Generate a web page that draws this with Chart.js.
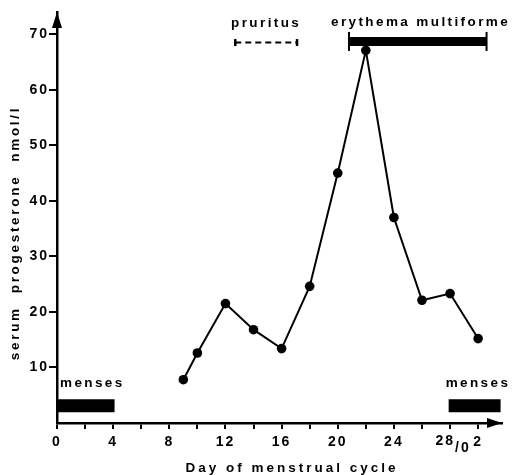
<!DOCTYPE html>
<html>
<head>
<meta charset="utf-8">
<script src="https://cdn.jsdelivr.net/npm/chart.js@4.4.1/dist/chart.umd.min.js"></script>
<style>
html, body { margin: 0; background: #fff; }
canvas { display: block; }
</style>
</head>
<body>
<canvas id="graficoProgesterona" width="514" height="475"></canvas>
<script>
// serum progesterone (nmol/l) by day of cycle
const dias = [9, 10, 12, 14, 16, 18, 20, 22, 24, 26, 28, 30];
const progesterona = [7.8, 12.6, 21.5, 16.8, 13.4, 24.6, 45.0, 67.1, 37.0, 22.1, 23.3, 15.2];

// x tick labels (day 28 = day 0 of next cycle, drawn apart)
const diasTick = [0, 4, 8, 12, 16, 20, 24, 30];
const etiquetasTick = ['0', '4', '8', '12', '16', '20', '24', '2'];

// symptom periods [start, end] and level
const pruritusDias = [12.7, 17.1];
const pruritusNivel = 68.5;
const eritemaDias = [20.8, 30.6];
const eritemaNivel = 68.7;
const mensesDias1 = [0, 4.1];
const mensesDias2 = [27.9, 31.6];
const mensesNivel = 3.1;

const familia = "'Liberation Sans', Arial, sans-serif";
const fuente = { family: familia, size: 14, weight: 'bold' };

function espaciado(chart) {
    chart.ctx.letterSpacing = '2px';
}

const extras = {
    id: 'extras',
    afterInit: espaciado,
    beforeUpdate: espaciado,
    beforeDraw: espaciado,
    afterDatasetsDraw(chart) {
        const { ctx, scales: { x, y } } = chart;
        ctx.save();
        ctx.fillStyle = '#000';
        ctx.font = 'bold 13.5px ' + familia;
        ctx.letterSpacing = '2.4px';
        ctx.textBaseline = 'alphabetic';

        ctx.textAlign = 'center';
        ctx.fillText('pruritus', x.getPixelForValue((pruritusDias[0] + pruritusDias[1]) / 2), y.getPixelForValue(pruritusNivel) - 16);
        ctx.textAlign = 'left';
        ctx.fillText('erythema multiforme', x.getPixelForValue(eritemaDias[0]) - 18, y.getPixelForValue(eritemaNivel) - 15);
        ctx.fillText('menses', x.getPixelForValue(mensesDias1[0]) + 3, y.getPixelForValue(mensesNivel) - 19);
        ctx.fillText('menses', x.getPixelForValue(mensesDias2[0]) - 3, y.getPixelForValue(mensesNivel) - 19);
        ctx.restore();
    },
    afterDraw(chart) {
        const { ctx, chartArea: a, scales: { x } } = chart;
        ctx.save();
        ctx.fillStyle = '#000';
        // arrow heads
        ctx.beginPath();
        ctx.moveTo(a.left, a.top);
        ctx.lineTo(a.left - 5, a.top + 16);
        ctx.lineTo(a.left + 5, a.top + 16);
        ctx.closePath();
        ctx.fill();
        ctx.beginPath();
        ctx.moveTo(a.right, a.bottom);
        ctx.lineTo(a.right - 15, a.bottom - 5);
        ctx.lineTo(a.right - 15, a.bottom + 5);
        ctx.closePath();
        ctx.fill();

        // "28/0" tick label with lowered "/0"
        ctx.font = 'bold 14px ' + familia;
        ctx.letterSpacing = '2px';
        ctx.textBaseline = 'alphabetic';
        ctx.textAlign = 'right';
        const x28 = x.getPixelForValue(28);
        ctx.fillText('28', x28 + 5, a.bottom + 22);
        ctx.textAlign = 'left';
        ctx.fillText('/0', x28 + 5, a.bottom + 29);

        // axis titles
        ctx.font = 'bold 13.5px ' + familia;
        ctx.textAlign = 'center';
        ctx.textBaseline = 'middle';
        ctx.letterSpacing = '3px';
        ctx.fillText('Day of menstrual cycle', 292, 468);
        ctx.translate(15, 233);
        ctx.rotate(-Math.PI / 2);
        ctx.letterSpacing = '2.7px';
        ctx.fillText('serum  progesterone  nmol/l', 0, 0);
        ctx.restore();
    }
};

function tramo(dias2, nivel) {
    return [{ x: dias2[0], y: nivel }, { x: dias2[1], y: nivel }];
}

const ctx = document.getElementById('graficoProgesterona').getContext('2d');

const grafico = new Chart(ctx, {
    type: 'line',
    data: {
        datasets: [
            {
                label: 'progesterone',
                data: dias.map((d, i) => ({ x: d, y: progesterona[i] })),
                borderColor: '#000',
                backgroundColor: '#000',
                borderWidth: 2,
                pointRadius: 4.8,
                pointBorderWidth: 0,
                pointBackgroundColor: '#000',
                tension: 0
            },
            {
                label: 'pruritus',
                data: tramo(pruritusDias, pruritusNivel),
                borderColor: '#000',
                borderWidth: 2,
                borderDash: [6, 4],
                pointStyle: 'line',
                rotation: 90,
                pointRadius: 3.5,
                pointBorderWidth: 2.5,
                pointBorderColor: '#000'
            },
            {
                label: 'erythema multiforme',
                data: tramo(eritemaDias, eritemaNivel),
                borderColor: '#000',
                borderWidth: 9,
                borderCapStyle: 'butt',
                pointStyle: 'line',
                rotation: 90,
                pointRadius: 9.5,
                pointBorderWidth: 2,
                pointBorderColor: '#000'
            },
            {
                label: 'menses',
                data: tramo(mensesDias1, mensesNivel),
                borderColor: '#000',
                borderWidth: 13,
                borderCapStyle: 'butt',
                pointRadius: 0
            },
            {
                label: 'menses',
                data: tramo(mensesDias2, mensesNivel),
                borderColor: '#000',
                borderWidth: 13,
                borderCapStyle: 'butt',
                pointRadius: 0
            }
        ]
    },
    options: {
        responsive: false,
        animation: false,
        layout: { padding: { top: 12, right: 12, left: 0, bottom: 0 } },
        plugins: {
            legend: { display: false },
            tooltip: { enabled: false }
        },
        scales: {
            x: {
                type: 'linear',
                min: 0,
                max: 31.7,
                afterFit: (s) => { s.height = 52; },
                ticks: {
                    stepSize: 2,
                    includeBounds: false,
                    autoSkip: false,
                    maxRotation: 0,
                    padding: 5,
                    color: '#000',
                    font: fuente,
                    callback: (v) => {
                        const i = diasTick.indexOf(v);
                        return i >= 0 ? etiquetasTick[i] : '';
                    }
                },
                grid: {
                    drawOnChartArea: false,
                    drawTicks: true,
                    tickLength: 6,
                    lineWidth: 2,
                    color: '#000'
                },
                border: { display: true, color: '#000', width: 2.5 }
            },
            y: {
                min: 0,
                max: 74,
                afterFit: (s) => { s.width = 57; },
                ticks: {
                    stepSize: 10,
                    includeBounds: false,
                    padding: 0,
                    color: '#000',
                    font: fuente,
                    callback: (v) => (v === 0 ? '' : v)
                },
                grid: {
                    drawOnChartArea: false,
                    drawTicks: true,
                    tickLength: 8,
                    lineWidth: 2,
                    color: (c) => (c.tick && c.tick.value === 0 ? 'rgba(0,0,0,0)' : '#000')
                },
                border: { display: true, color: '#000', width: 2.5 }
            }
        }
    },
    plugins: [extras]
});
</script>
</body>
</html>
